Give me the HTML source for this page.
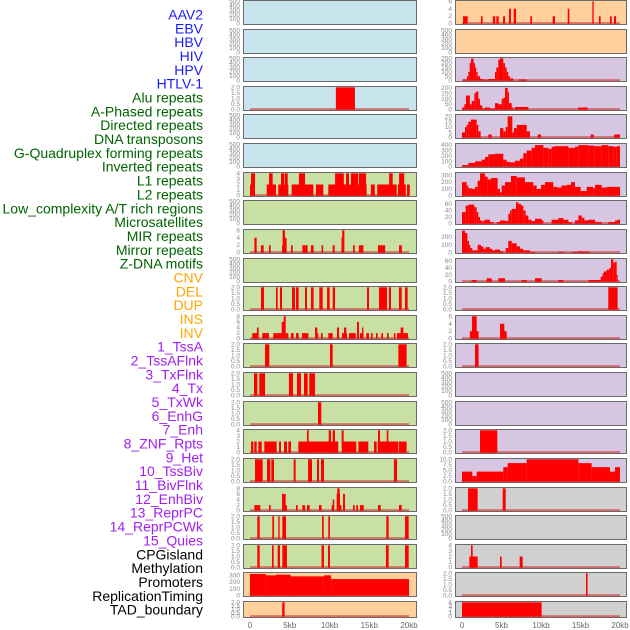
<!DOCTYPE html>
<html><head><meta charset="utf-8"><style>
html,body{margin:0;padding:0;background:#fff;}
svg{display:block;font-family:"Liberation Sans",sans-serif;}
</style></head><body>
<svg id="chart" width="630" height="630" viewBox="0 0 630 630"></svg>
<script>
const trackLabels = ["AAV2","EBV","HBV","HIV","HPV","HTLV-1","Alu repeats","A-Phased repeats","Directed repeats","DNA transposons","G-Quadruplex forming repeats","Inverted repeats","L1 repeats","L2 repeats","Low_complexity A/T rich regions","Microsatellites","MIR repeats","Mirror repeats","Z-DNA motifs","CNV","DEL","DUP","INS","INV","1_TssA","2_TssAFlnk","3_TxFlnk","4_Tx","5_TxWk","6_EnhG","7_Enh","8_ZNF_Rpts","9_Het","10_TssBiv","11_BivFlnk","12_EnhBiv","13_ReprPC","14_ReprPCWk","15_Quies","CPGisland","Methylation","Promoters","ReplicationTiming","TAD_boundary"];
const labelGroups = [6,13,5,15,5];
const xTickValues = [0,5,10,15,20];
const xTickLabels = ["0","5kb","10kb","15kb","20kb"];
const leftYMax = [500,500,500,2,500,500,4,500,6,500,2,8,2,2,2,4,2,8,2,2,330,2];
const leftYStep = [100,100,100,0.5,100,100,1,100,2,100,0.5,2,0.5,0.5,0.5,1,0.5,2,0.5,0.5,100,0.5];
const rightYMax = [6,500,255,205,21,415,330,68,285,65,2,6,2,500,500,2,10,2,500,4,2,4];
const rightYStep = [2,100,50,50,5,100,100,20,100,20,0.5,2,0.5,100,100,0.5,2.5,0.5,100,1,0.5,1];
const leftTracks = [
 [],[],[],
 [[10.8,13.2,2]],
 [],[],
 [[0,0.63,2],[0.13,0.63,4],[2.1,3.27,2],[2.39,2.85,4],[3.56,4.82,2],[3.9,4.32,4],[4.4,4.74,4],[5.24,7.97,2],[6.16,6.92,4],[8.3,9.22,2],[9.85,12.58,2],[10.7,11.8,4],[12.08,12.45,4],[12.58,14.67,2],[12.7,13.6,4],[13.7,14.6,4],[15.2,15.7,2],[16,18.45,2],[17.5,17.95,4],[18.6,19.6,2],[18.75,19.4,4],[19.75,20.1,2]],
 [],
 [[0.55,0.84,4],[1.38,1.72,2],[2.39,2.6,2],[4.03,4.6,2],[4.4,4.6,4],[4.1,4.4,6],[5.16,5.37,2],[6.58,7.25,2],[7.67,8,2],[9,9.2,2],[10.4,10.65,2],[11.5,11.6,4],[11.6,11.87,6],[12.96,13.17,2],[13.7,14.26,2],[16.1,17,2],[18.75,19.1,2]],
 [],
 [[1.38,1.76,2],[3.27,3.48,2],[3.77,4.03,2],[5.28,5.66,2],[5.79,6.12,2],[6.92,7.17,2],[7.67,8,2],[8.72,9.14,2],[9.69,10.02,2],[10.4,10.69,2],[14.72,14.97,2],[16.23,17.23,2],[17.48,17.74,2],[18.74,19.08,2],[19.5,19.83,2]],
 [[0.29,1.05,2],[0.88,1.09,4],[1.55,2.39,2],[2.93,3.98,2],[3.98,4.4,6],[4.23,4.49,8],[4.49,4.82,2],[5.16,5.49,2],[5.79,6.12,2],[6.54,7.34,2],[8.18,8.47,4],[8.47,8.6,2],[8.93,9.14,2],[9.85,10.4,2],[10.94,11.2,4],[11.57,12.2,2],[11.82,12.12,4],[12.45,13.3,2],[13.46,13.71,6],[13.84,14.26,2],[14.09,14.26,4],[14.63,14.97,2],[15.22,15.43,2],[15.85,16.06,2],[16.52,16.73,2],[17.23,17.44,2],[18.1,18.3,2],[18.5,19.87,2],[18.95,19.29,4]],
 [[1.89,2.43,2],[10.06,10.4,2],[18.66,19.7,2]],
 [[0.5,0.92,2],[1.17,1.89,2],[4.9,5.41,2],[5.91,6.41,2],[6.79,7.25,2],[7.46,8.18,2]],
 [[8.55,8.97,2]],
 [[0.13,0.42,2],[0.55,0.84,2],[1.05,1.47,2],[1.8,3.35,2],[3.65,3.9,2],[4.28,4.65,2],[4.82,5.16,2],[6.08,11.1,2],[11.74,13.37,2],[13.63,14.88,2],[15.6,15.93,2],[16.06,18.66,2],[18.74,19.7,2],[7.17,7.38,4],[9.9,10.19,4],[10.4,10.69,4],[11.53,11.78,4],[16.1,16.35,4],[17.2,17.4,4]],
 [[0.63,1.59,2],[2.14,2.56,2],[2.68,3.02,2],[5.49,5.74,2],[7.3,7.8,2],[8.43,8.68,2],[8.93,9.31,2],[18.1,18.5,2]],
 [[0.55,1.3,2],[2.39,2.6,2],[4.03,4.65,2],[4.03,4.49,6],[5.79,6,2],[6.58,6.92,2],[7.17,7.5,2],[8.68,9,2],[10.27,10.52,2],[10.4,10.6,4],[10.9,11.32,6],[10.98,11.28,8],[11.32,11.5,2],[11.7,11.95,6],[12.96,13.17,2],[13.37,13.58,2],[13.84,14.3,2],[16.1,16.44,2],[18.74,19.08,2]],
 [[0.92,1.22,2],[2.81,3.02,2],[3.56,3.73,2],[4.07,4.53,2],[9.06,9.27,2],[9.85,10.06,2],[17.15,17.44,2],[19.5,19.96,2]],
 [[0.92,1.22,2],[2.77,2.98,2],[3.48,3.77,2],[4.07,4.65,2],[9,9.3,2],[9.81,10.06,2],[17.1,17.44,2],[19.5,19.96,2]],
 [[0,2,320],[2,3.27,300],[3.27,5.1,310],[5.1,9.3,285],[9.3,10.2,300],[10.2,20,245]],
 [[4.05,4.35,2]]
];
const rightTracks = [
 [[0.13,0.72,2],[2.4,2.6,2],[3.9,4.2,2],[4.35,4.64,2],[5.2,5.44,2],[5.95,6.2,4],[6.54,6.84,4],[8.65,8.86,2],[11.48,11.77,2],[13.38,13.59,4],[16.5,16.67,6],[17.34,17.55,2],[18.73,18.95,2],[19.24,19.5,2]],
 [],
 [[0.13,0.63,15],[0.63,0.8,50],[0.8,0.97,100],[0.97,1.14,200],[1.14,1.48,250],[1.48,1.65,200],[1.65,1.81,150],[1.81,1.98,100],[1.98,2.28,50],[2.28,2.7,20],[2.7,3.33,10],[3.33,4.18,20],[4.18,4.35,100],[4.35,4.6,150],[4.6,4.81,240],[4.81,5.23,255],[5.23,5.44,200],[5.44,5.65,150],[5.65,5.86,100],[5.86,6.08,50],[6.08,6.5,25],[7.2,8.2,15]],
 [[0,0.3,20],[0.3,0.5,50],[0.5,1,130],[1,1.22,50],[1.22,1.56,80],[1.56,1.73,150],[1.73,2.07,165],[2.07,2.28,100],[2.28,2.57,40],[2.57,2.91,10],[2.91,3.54,20],[3.54,4.18,10],[4.18,4.6,60],[4.6,5.02,50],[5.02,5.23,100],[5.23,5.44,110],[5.44,5.78,200],[5.78,5.95,160],[5.95,6.29,60],[6.29,6.5,20],[6.7,8.4,25],[14.7,15.9,20]],
 [[0,0.38,5],[0.38,0.59,10],[0.59,0.8,12],[0.8,1.14,15],[1.14,1.86,17],[1.86,2.07,12],[2.07,2.36,6],[3.33,3.76,3],[4.81,5.23,9],[5.23,5.53,6],[5.53,5.78,10],[5.78,6.37,20],[6.37,6.58,5],[6.58,6.92,9],[6.92,8.19,12],[8.19,8.6,6],[9.58,10,3],[16.3,16.67,3],[19.24,20,3]],
 [[0,0.8,30],[0.8,1.65,70],[1.65,2.49,100],[2.49,2.91,130],[2.91,3.33,180],[3.33,4.18,230],[4.18,5.23,240],[5.23,5.65,130],[5.65,6.08,90],[6.08,6.7,80],[6.7,7.34,110],[7.34,7.76,150],[7.76,8.19,250],[8.19,8.82,300],[8.82,9.24,350],[9.24,10.3,400],[10.3,10.93,350],[10.93,11.35,330],[11.35,11.77,370],[11.77,13.46,380],[13.46,14.3,350],[14.3,14.73,370],[14.73,16,400],[16,16.8,390],[16.8,17.68,380],[17.68,18.52,400],[18.52,19.16,380],[19.16,19.58,370],[19.58,20,380]],
 [[0,0.59,200],[0.59,0.8,150],[0.8,1.22,110],[1.22,1.65,100],[1.65,1.98,130],[1.98,2.28,220],[2.28,2.91,330],[2.91,3.25,280],[3.25,3.67,240],[3.67,4.51,260],[4.51,4.81,100],[4.81,5.02,50],[5.02,5.44,150],[5.44,6.2,200],[6.2,6.92,290],[6.92,7.97,270],[7.97,9.03,200],[9.03,9.45,150],[9.45,10,100],[10,10.5,160],[10.5,11.56,200],[11.56,12.1,130],[12.1,12.6,120],[12.6,13.25,150],[13.25,13.8,160],[13.8,14.3,200],[14.3,15.02,130],[15.02,15.78,70],[15.78,16.62,130],[16.62,16.84,110],[16.84,17.68,160],[17.68,18.31,120],[18.31,20,130]],
 [[0,0.46,35],[0.46,0.8,55],[0.8,1.56,58],[1.56,1.86,50],[1.86,2.07,35],[2.07,2.28,20],[2.28,2.57,10],[2.57,2.83,7],[2.83,3.54,12],[3.54,3.97,5],[4.39,4.81,5],[4.81,5.44,10],[5.44,5.86,8],[5.86,6.08,30],[6.08,6.29,40],[6.29,6.84,45],[6.84,7.13,65],[7.13,7.47,60],[7.47,7.76,55],[7.76,8.06,40],[8.06,8.4,25],[8.4,8.82,12],[8.82,9.24,8],[9.24,10.08,15],[10.08,10.3,10],[11.35,12.19,12],[12.19,12.83,17],[12.83,13.46,12],[13.46,13.88,5],[14.3,14.73,10],[14.73,15.15,25],[15.15,15.49,18],[15.49,16,10],[16,16.84,12],[16.84,17.68,5],[18.52,19.37,5],[19.37,19.7,10],[19.7,20,12]],
 [[0,0.38,280],[0.38,0.68,250],[0.68,0.89,150],[0.89,1.05,100],[1.05,1.31,60],[1.31,1.98,30],[1.98,2.4,100],[2.4,2.7,80],[2.7,3,50],[3,3.54,70],[3.54,3.84,50],[3.84,4.18,30],[4.18,4.81,40],[4.81,5.23,20],[5.53,5.86,60],[5.86,6.29,150],[6.29,6.92,120],[6.92,7.34,80],[7.34,7.76,50],[7.76,8.6,30],[8.6,9.24,10],[12.19,12.83,10],[13.88,14.73,10],[14.73,15.15,20],[15.15,16.2,15]],
 [[1.22,1.86,5],[3.12,3.76,10],[4.6,5.44,10],[7.55,8.19,5],[9.24,10.08,10],[12.19,12.83,5],[16,17.55,5],[17.55,17.8,15],[17.8,17.97,25],[17.97,18.31,30],[18.31,18.65,35],[18.65,18.86,40],[18.86,19.16,65],[19.16,19.37,55],[19.37,19.58,58],[19.58,19.7,20]],
 [[18.52,19.7,2]],
 [[1,2.1,2],[1.27,1.86,6],[4.81,5.65,2],[4.81,5.36,4]],
 [[1.65,2.1,2]],
 [],[],
 [[2.28,4.47,2]],
 [[0,1.31,4.5],[1.31,1.86,2.5],[1.86,5.23,4.5],[5.23,5.78,6.5],[5.78,8.19,8.3],[8.19,14.73,10],[14.73,16.41,8.3],[16.41,18.73,6.5],[18.73,19.37,4.5],[19.37,20,6.5]],
 [[0.76,1.98,2],[5.15,5.53,2]],
 [],
 [[0.93,1.98,2],[1.14,1.35,4],[4.81,5.02,2],[7.3,7.68,2]],
 [[15.7,15.9,2]],
 [[0,10.08,4]]
];

const NS = "http://www.w3.org/2000/svg";
const svg = document.getElementById('chart');
function mk(tag, attrs, parent){
  const e = document.createElementNS(NS, tag);
  for (const k in attrs) e.setAttribute(k, attrs[k]);
  (parent||svg).appendChild(e);
  return e;
}
const rowTops = [];
for (let r=0;r<22;r++) rowTops.push(Math.round(r*28.62));
const colGeo = [
  {px:243, pw:173, x0:250, x1:409, tickX:240},
  {px:455, pw:171, x0:462, x1:620, tickX:452}
];
const bgLeft = r => r<6 ? "#c8e4ec" : (r<20 ? "#c8e0a4" : "#ffd09c");
const bgRight = r => r<2 ? "#ffd09c" : (r<17 ? "#d6c6e2" : "#d0d0d0");
const groupColors = ["#1a1aff","#006400","#ffa500","#a020f0","#000000"];

// labels
let li = 0;
labelGroups.forEach((n,g)=>{
  for (let k=0;k<n;k++){
    const t = mk('text',{x:203,y:19.5+li*13.84,'text-anchor':'end','font-size':'14',fill:groupColors[g]});
    t.textContent = trackLabels[li];
    
    
    li++;
  }
});

function drawPanel(col, r, data, ymax, ystep){
  const G = colGeo[col];
  const top = rowTops[r];
  const h = r===21 ? 16 : 24;
  const g = mk('g',{});
  
  
  const bg = mk('rect',{x:G.px+0.5,y:top+0.5,width:G.pw,height:h,fill:col===0?bgLeft(r):bgRight(r),stroke:'#6a6a6a','stroke-width':1},g);
  
  
  const yb = top + h - 0.3, yt = top + 1.3;
  const ys = v => yb - (v/ymax)*(yb-yt);
  const xs = kb => G.x0 + (kb/20)*(G.x1-G.x0);
  // y ticks
  const dec = (ystep%1!==0);
  for (let v=0; v<=ymax+1e-9; v+=ystep){
    const t = mk('text',{x:G.tickX,y:ys(v)+2,'text-anchor':'end','font-size':'6.5',fill:'#8a8a8a'},g);
    t.textContent = dec ? v.toFixed(1) : String(v);
    
    
  }
  if (data.length===0) return;
  const base = mk('rect',{x:xs(0),y:ys(0)-1.5,width:xs(20)-xs(0),height:2,fill:'#d04040',opacity:0.7},g);
  
  
  data.forEach(d=>{
    const x = xs(d[0]), w = Math.max(1, xs(d[1])-xs(d[0]));
    const y = ys(d[2]);
    const b = mk('rect',{x:x,y:y,width:w,height:ys(0)-y,fill:'#ff0000'},g);
    
    
  });
}
for (let r=0;r<22;r++){
  drawPanel(0,r,leftTracks[r],leftYMax[r],leftYStep[r]);
  drawPanel(1,r,rightTracks[r],rightYMax[r],rightYStep[r]);
}
// x axes
colGeo.forEach((G,c)=>{
  xTickValues.forEach((v,i)=>{
    const t = mk('text',{x:G.x0+(v/20)*(G.x1-G.x0),y:628,'text-anchor':'middle','font-size':'8',fill:'#666'});
    t.textContent = xTickLabels[i];
    
    
  });
});
</script>
</body></html>
